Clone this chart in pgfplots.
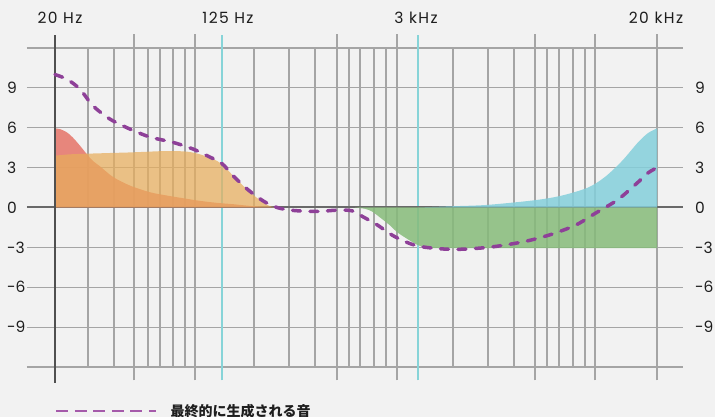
\documentclass[border=0pt]{standalone}
\usepackage{pgfplots}
\pgfplotsset{compat=1.18}
\usepackage{fontspec}
\setmainfont{Poppins}
\newfontfamily\tickfont{Poppins}[LetterSpace=9]
\newfontfamily\cjk{Noto Sans CJK JP}

\definecolor{bgcol}{RGB}{242,242,242}
\definecolor{gridgray}{RGB}{165,165,165}
\definecolor{zerogray}{RGB}{105,105,105}
\definecolor{axisgray}{RGB}{80,80,80}
\definecolor{cyanline}{RGB}{135,212,216}
\definecolor{labelcol}{RGB}{30,30,30}
\definecolor{redfill}{RGB}{230,116,104}
\definecolor{orangefill}{RGB}{232,174,92}
\definecolor{greenfill}{RGB}{134,187,122}
\definecolor{cyanfill}{RGB}{132,207,219}
\definecolor{sumpurple}{RGB}{142,64,152}
\definecolor{legpurple}{RGB}{165,90,170}

\newcommand\xlabelfont{\tickfont\fontsize{15.5}{18}\selectfont}
\newcommand\ylabelfont{\fontsize{15.5}{18}\selectfont}

\begin{document}
\begin{tikzpicture}
\fill[bgcol] (0,0) rectangle (715pt,417pt);

\begin{axis}[
  at={(27pt,50pt)}, anchor=south west,
  scale only axis, width=656pt, height=319pt,
  xmin=27, xmax=683, ymin=-12, ymax=12,
  clip=false,
  axis line style={draw=none},
  major tick length=0pt,
  xtick={88,114,148,160,173,185,254,289,315,349,360,374,386,453,488,514,547,559,573,585},
  xticklabels={},
  extra x ticks={134,195,337,397,535,595,657},
  extra x tick labels={},
  extra x tick style={grid=major, tick align=outside, major tick length=13.5pt,
    tick style={gridgray, line width=1.2pt}},
  ytick={-12,-9,...,12},
  yticklabels={,-9,-6,-3,0,3,6,9,},
  yticklabel pos=left,
  yticklabel style={anchor=west, inner sep=0pt, xshift=-20pt, font=\ylabelfont, text=labelcol},
  xmajorgrids, ymajorgrids,
  major grid style={gridgray, line width=1.2pt},
  legend style={at={(0.0427,-0.138)}, anchor=west, draw=none, fill=none,
    inner sep=0pt, nodes={inner sep=0pt}, text=labelcol,
    font=\cjk\bfseries\fontsize{14}{16}\selectfont},
  legend image code/.code={\draw[legpurple, line width=2.3pt, line cap=butt,
    dash pattern=on 12pt off 6.5pt] (0pt,0pt) -- (100pt,0pt);},
]

% reference lines
\draw[cyanline, line width=1.4pt] (axis cs:222,-13) -- (axis cs:222,13);
\draw[cyanline, line width=1.4pt] (axis cs:418,-13) -- (axis cs:418,13);
\draw[zerogray, line width=2pt] (axis cs:27,0) -- (axis cs:683,0);

% band gains
\addplot[draw=none, fill=redfill, fill opacity=0.85, smooth, forget plot] coordinates {
  (55,5.95) (60,5.9) (67,5.65) (73,5.25) (80,4.65) (87,4.0) (93,3.5) (100,3.1)
  (113,2.3) (130,1.65) (150,1.15) (167,0.9) (183,0.7) (200,0.5) (217,0.35)
  (233,0.25) (250,0.12) (267,0.03) (280,0)
} \closedcycle;
\addplot[draw=none, fill=orangefill, fill opacity=0.72, smooth, forget plot] coordinates {
  (55,3.9) (70,4.0) (88,4.05) (110,4.1) (133,4.15) (167,4.25) (187,4.2) (200,4.0)
  (213,3.65) (222,3.25) (233,2.4) (247,1.35) (260,0.55) (270,0.1) (280,0)
} \closedcycle;
\addplot[draw=none, fill=greenfill, fill opacity=0.85, smooth, forget plot] coordinates {
  (355,0) (365,-0.1) (372,-0.3) (380,-0.75) (390,-1.35) (397,-1.85) (407,-2.35)
  (417,-2.8) (425,-3.0) (435,-3.05) (500,-3.05) (600,-3.05) (657,-3.05)
} \closedcycle;
\addplot[draw=none, fill=cyanfill, fill opacity=0.85, smooth, forget plot] coordinates {
  (418,0) (455,0.1) (488,0.2) (535,0.55) (562,0.9) (588,1.5) (605,2.3) (622,3.5)
  (638,4.9) (648,5.6) (657,5.95)
} \closedcycle;

\draw[axisgray, line width=2.4pt] (axis cs:55,-13.2) -- (axis cs:55,13);

% resulting response
\addplot[sumpurple, line width=3.5pt, line cap=round, dash pattern=on 8pt off 9.5pt, smooth] coordinates {
  (55,10.0) (67,9.65) (80,8.9) (93,7.65) (110,6.65) (130,5.9) (150,5.3) (173,4.9)
  (193,4.4) (207,3.9) (222,3.3) (233,2.4) (247,1.4) (263,0.5) (277,0.0) (293,-0.22)
  (317,-0.3) (337,-0.2) (352,-0.25) (363,-0.7) (377,-1.3) (395,-2.2) (418,-2.9)
  (452,-3.15) (488,-3.0) (522,-2.6) (548,-2.1) (575,-1.35) (595,-0.45) (618,0.6)
  (638,1.9) (648,2.6) (657,3.0)
};
\addlegendentry{\hspace*{13pt}最終的に生成される音}
\end{axis}

\begin{axis}[
  at={(27pt,50pt)}, anchor=south west,
  scale only axis, width=656pt, height=319pt,
  xmin=27, xmax=683, ymin=-12, ymax=12,
  axis line style={draw=none},
  major tick length=0pt,
  xtick={60,228,416,656},
  xticklabels={20 Hz,125 Hz,3 kHz,20 kHz},
  xticklabel pos=right,
  xticklabel style={anchor=center, yshift=30pt, font=\xlabelfont, text=labelcol},
  ytick={-9,-6,...,9},
  yticklabels={-9,-6,-3,0,3,6,9},
  yticklabel pos=right,
  yticklabel style={anchor=west, inner sep=0pt, xshift=12pt, font=\ylabelfont, text=labelcol},
]
\end{axis}

\pgfresetboundingbox
\useasboundingbox (0,0) rectangle (715pt,417pt);
\end{tikzpicture}
\end{document}
